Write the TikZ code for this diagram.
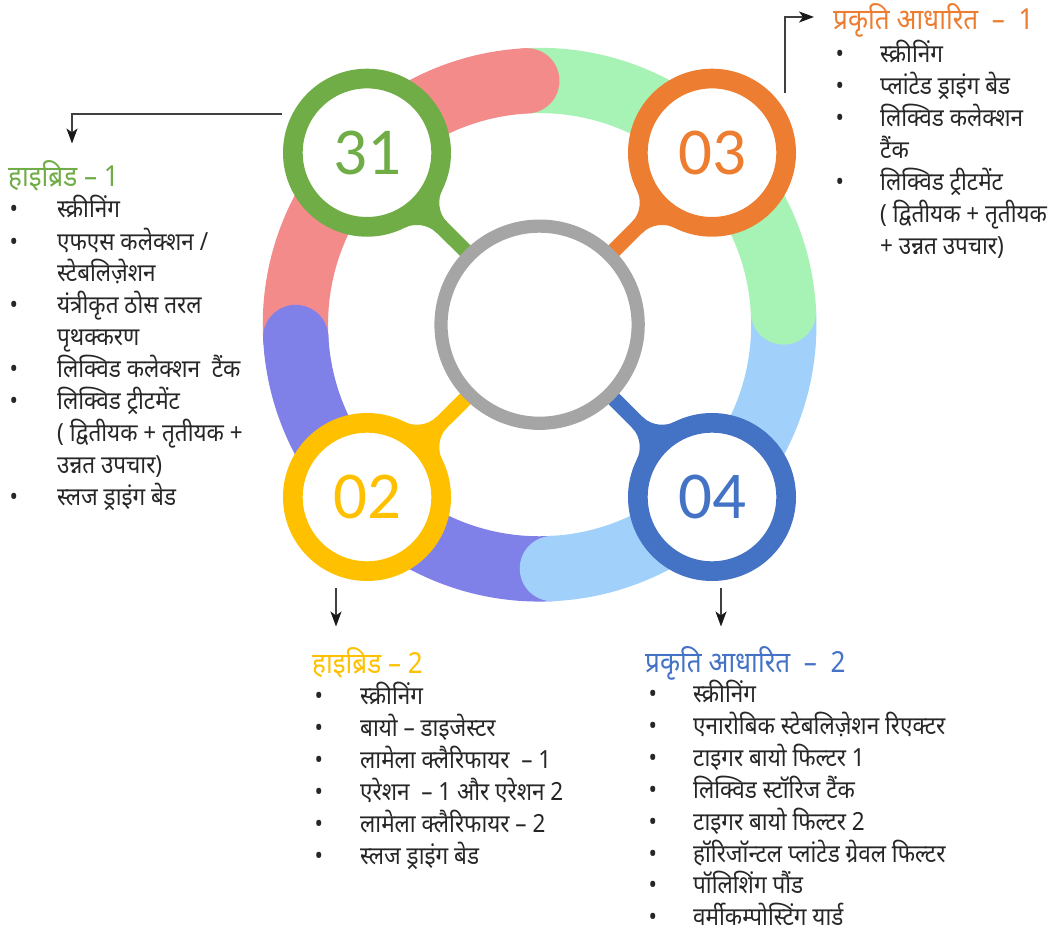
\documentclass[tikz,border=0pt]{standalone}
\usepackage{fontspec}
\setmainfont{Noto Sans}
\newfontfamily\deva[Script=Devanagari,FakeStretch=0.9]{Noto Sans}
\newfontfamily\numfont{Carlito}
\usetikzlibrary{arrows.meta}

\pgfdeclarelayer{bg}
\pgfdeclarelayer{links}
\pgfsetlayers{bg,links,main}

% palette
\definecolor{ringpink}{HTML}{F38B8B}
\definecolor{ringgreen}{HTML}{A7F2B5}
\definecolor{ringblue}{HTML}{A1D1FA}
\definecolor{ringviolet}{HTML}{8080E9}
\definecolor{cgreen}{HTML}{70AD47}
\definecolor{corange}{HTML}{ED7D31}
\definecolor{cyellow}{HTML}{FFC000}
\definecolor{cblue}{HTML}{4472C4}
\definecolor{cgray}{HTML}{A5A5A5}
\definecolor{bodytext}{HTML}{262626}

\tikzset{
  % flared joint where a stem leaves a numbered circle (local x points to the hub)
  tabjoin/.pic={
    \fill (79.9,-26) .. controls (82.5,-18) and (92,-7.5) .. (106,-7.5)
      -- (106,7.5) .. controls (92,7.5) and (82.5,18) .. (79.9,26) -- cycle;
  }
}

\begin{document}
\begin{tikzpicture}[x=1pt,y=1pt,
  band/.style={line width=65.3pt},
  stepnode/.style={circle, draw=#1, line width=19.7pt, fill=white,
    minimum size=148.3pt, inner sep=0pt, text=#1,
    font=\numfont\fontsize{67}{67}\selectfont},
  hubnode/.style={circle, draw=cgray, line width=13.2pt, fill=white,
    minimum size=197.2pt, inner sep=0pt},
  stem/.style={line width=15pt, draw=#1},
  pointer/.style={draw=black!75, line width=1.1pt,
    -{Stealth[length=15pt,width=11pt,inset=4pt,color=black!90]}},
  heading/.style={font=\deva\fontsize{29}{32}\selectfont, text=#1,
    anchor=base west, inner sep=0pt},
  itemlist/.style={font=\deva\fontsize{25}{32}\selectfont, text=bodytext,
    anchor=base west, inner sep=0pt},
]
\begin{pgfonlayer}{bg}
  \fill[white] (0,0) rectangle (1053,-931);
\end{pgfonlayer}
\useasboundingbox (0,0) rectangle (1053,-931);

\coordinate (c) at (539.6,-324.7);

% outer ring: four bands, each ending in a rounded cap laid over the next one
\draw[band, ringpink]   (c) ++(183:244.2) arc[start angle=183, end angle=93,  radius=244.2];
\draw[band, ringgreen]  (c) ++(93:244.2)  arc[start angle=93,  end angle=3,   radius=244.2];
\draw[band, ringblue]   (c) ++(3:244.2)   arc[start angle=3,   end angle=-87, radius=244.2];
\draw[band, ringviolet] (c) ++(273:244.2) arc[start angle=273, end angle=183, radius=244.2];
\fill[ringpink]   (c) ++(93:244.2)  circle[radius=32.65];
\fill[ringgreen]  (c) ++(3:244.2)   circle[radius=32.65];
\fill[ringblue]   (c) ++(273:244.2) circle[radius=32.65];
\fill[ringviolet] (c) ++(183:244.2) circle[radius=32.65];

% numbered circles and the hub
\node[stepnode=cgreen]  (n31) at (367,-152.7) {31};
\node[stepnode=corange] (n03) at (712,-152.7) {03};
\node[stepnode=cyellow] (n02) at (367,-497)   {02};
\node[stepnode=cblue]   (n04) at (712,-497)   {04};
\node[hubnode] (hub) at (c) {};

% stems from each circle to the hub
\begin{pgfonlayer}{links}
  \draw[stem=cgreen]  (n31.center) -- (hub.center);
  \draw[stem=corange] (n03.center) -- (hub.center);
  \draw[stem=cyellow] (n02.center) -- (hub.center);
  \draw[stem=cblue]   (n04.center) -- (hub.center);
  \pic[cgreen,  rotate=-45]  at (n31.center) {tabjoin};
  \pic[corange, rotate=-135] at (n03.center) {tabjoin};
  \pic[cyellow, rotate=45]   at (n02.center) {tabjoin};
  \pic[cblue,   rotate=135]  at (n04.center) {tabjoin};
\end{pgfonlayer}

% pointers to the lists
\coordinate (p1a) at (282,-114);   \coordinate (p1b) at (72,-143.5);
\coordinate (p2a) at (785,-93);    \coordinate (p2b) at (814,-17);
\coordinate (p3a) at (336,-588);   \coordinate (p3b) at (336,-626.5);
\coordinate (p4a) at (721,-588);   \coordinate (p4b) at (721,-626.5);
\draw[pointer] (p1a) -| (p1b);
\draw[pointer] (p2a) |- (p2b);
\draw[pointer] (p3a) -- (p3b);
\draw[pointer] (p4a) -- (p4b);

% hybrid 1
\node[heading=cgreen] (h31) at (8,-186) {हाइब्रिड – 1};
\node[itemlist] (b31) at (9.5,-218) {\begin{tabular}[t]{@{}p{47.5pt}@{}l@{}}
• & स्क्रीनिंग\\
• & एफएस कलेक्शन /\\
  & स्टेबलिज़ेशन\\
• & यंत्रीकृत ठोस तरल\\
  & पृथक्करण\\
• & लिक्विड कलेक्शन\ \ टैंक\\
• & लिक्विड ट्रीटमेंट\\
  & ( द्वितीयक + तृतीयक +\\
  & उन्नत उपचार)\\
• & स्लज ड्राइंग बेड
\end{tabular}};

% nature based 1
\node[heading=corange] (h03) at (833,-30) {प्रकृति आधारित\ \ –\ \ 1};
\node[itemlist] (b03) at (835.5,-62.5) {\begin{tabular}[t]{@{}p{44.5pt}@{}l@{}}
• & स्क्रीनिंग\\
• & प्लांटेड ड्राइंग बेड\\
• & लिक्विड कलेक्शन\\
  & टैंक\\
• & लिक्विड ट्रीटमेंट\\
  & ( द्वितीयक + तृतीयक\\
  & + उन्नत उपचार)
\end{tabular}};

% hybrid 2
\node[heading=cyellow] (h02) at (312,-673) {हाइब्रिड – 2};
\node[itemlist] (b02) at (314.5,-704) {\begin{tabular}[t]{@{}p{45.5pt}@{}l@{}}
• & स्क्रीनिंग\\
• & बायो – डाइजेस्टर\\
• & लामेला क्लैरिफायर\ \ – 1\\
• & एरेशन\ \ – 1 और एरेशन 2\\
• & लामेला क्लैरिफायर – 2\\
• & स्लज ड्राइंग बेड
\end{tabular}};

% nature based 2 (slightly tighter rows so the last one stays on the page)
\node[heading=cblue] (h04) at (645,-672) {प्रकृति आधारित\ \ –\ \ 2};
\node[itemlist, font=\deva\fontsize{25}{31.7}\selectfont] (b04) at (648.5,-702.5)
 {\begin{tabular}[t]{@{}p{44.5pt}@{}l@{}}
• & स्क्रीनिंग\\
• & एनारोबिक स्टेबलिज़ेशन रिएक्टर\\
• & टाइगर बायो फिल्टर 1\\
• & लिक्विड स्टॉरिज टैंक\\
• & टाइगर बायो फिल्टर 2\\
• & हॉरिजॉन्टल प्लांटेड ग्रेवल फिल्टर\\
• & पॉलिशिंग पौंड\\
• & \smash{वर्मीकम्पोस्टिंग यार्ड}
\end{tabular}};
\end{tikzpicture}
\end{document}
